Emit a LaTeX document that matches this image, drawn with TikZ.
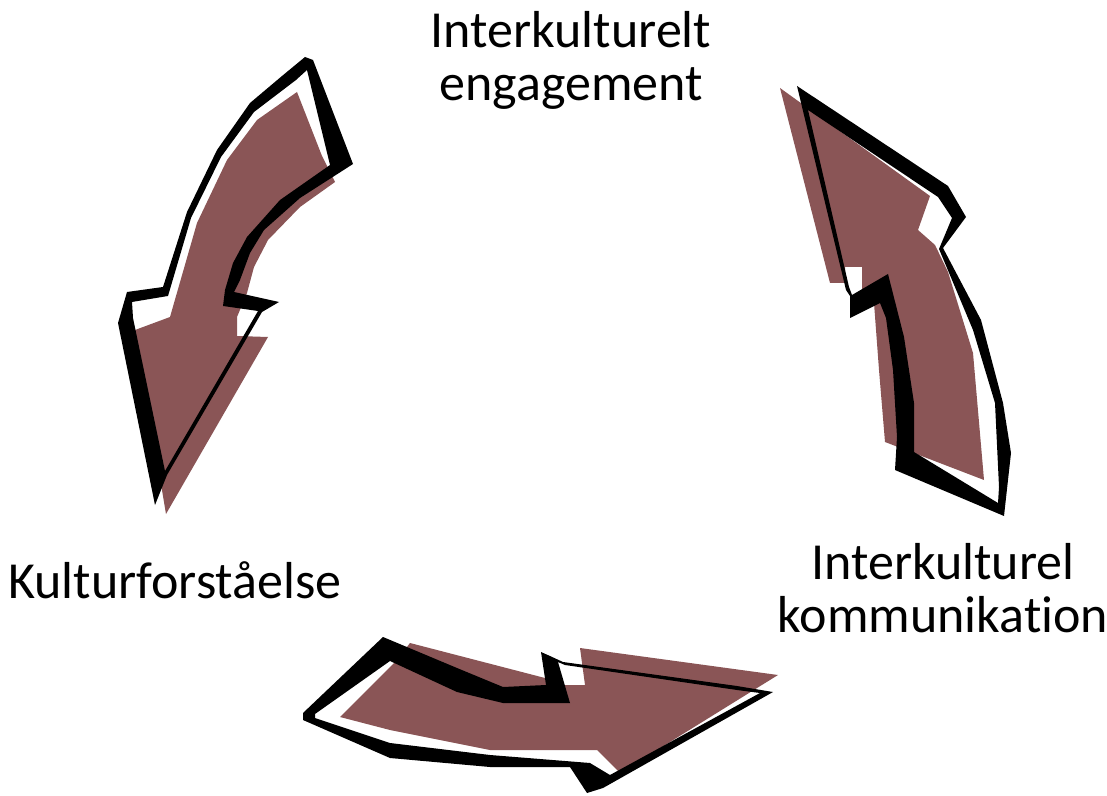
\documentclass[tikz,border=0pt]{standalone}
\usepackage{fontspec}
\setmainfont{Carlito}[Ligatures=NoCommon]
\definecolor{arrowred}{HTML}{8A5556}
\tikzset{
  shade/.style={fill=arrowred},
  rim/.style={fill=black, even odd rule},
  label/.style={align=center, inner sep=0pt, font=\fontsize{26}{26.5}\selectfont}
}
\begin{document}
\begin{tikzpicture}[x=0.5pt, y=-0.5pt]
  \useasboundingbox (0,0) rectangle (1107,796);

  % venstre pil
  \fill[shade] (297,92) -- (322,156) -- (335,182) -- (300,207) -- (268,240) -- (254,267) -- (247,293) -- (237,317) -- (237,336) -- (268,337) -- (166,514) -- (135,330) -- (170,317) -- (197,223) -- (227,160) -- (257,120) -- cycle;
  \fill[rim] (305,57) -- (313,60) -- (353,164) -- (300,198) -- (264,230) -- (250,253) -- (240,280) -- (234,292) -- (279,302) -- (262,312) -- (167,475) -- (155,505) -- (118,323) -- (127,292) -- (163,287) -- (187,212) -- (217,150) -- (250,103) -- (282,76) -- cycle
    (307,70) -- (330,165) -- (280,200) -- (247,237) -- (233,263) -- (225,290) -- (223,306) -- (258,311) -- (165,471) -- (133,318) -- (132,302) -- (168,296) -- (191,218) -- (221,157) -- (254,112) -- (296,80) -- cycle;

  % hoejre pil
  \fill[shade] (780,88) -- (930,196) -- (918,230) -- (935,245) -- (948,272) -- (973,353) -- (984,480) -- (885,442) -- (879,370) -- (874,303) -- (862,290) -- (862,267) -- (845,267) -- (845,283) -- (830,283) -- cycle;
  \fill[rim] (797,86) -- (948,186) -- (966,217) -- (943,248) -- (981,320) -- (1003,403) -- (1011,453) -- (1004,516) -- (895,470) -- (897,437) -- (893,370) -- (886,318) -- (880,303) -- (850,318) -- (850,296) -- (846,290) -- cycle
    (808,110) -- (938,197) -- (952,218) -- (939,249) -- (973,330) -- (995,403) -- (999,487) -- (998,503) -- (914,452) -- (914,403) -- (904,337) -- (888,274) -- (852,295) -- (849,287) -- cycle;

  % nederste pil
  \fill[shade] (410,643) -- (545,678) -- (560,685) -- (585,685) -- (580,648) -- (778,675) -- (620,773) -- (597,750) -- (490,750) -- (390,730) -- (340,717) -- (397,660) -- cycle;
  \fill[rim] (303,713) -- (383,637) -- (457,668) -- (503,687) -- (546,685) -- (541,652) -- (550,656) -- (563,662) -- (737,686) -- (773,692) -- (603,788) -- (587,793) -- (570,767) -- (490,767) -- (390,758) -- (303,720) -- cycle
    (315,714) -- (390,661) -- (457,692) -- (503,703) -- (570,703) -- (558,662) -- (565,665) -- (737,690) -- (760,693) -- (610,775) -- (590,763) -- (490,755) -- (390,743) -- (315,718) -- cycle;

  \node[label] (eng) at (571,60) {Interkulturelt\\engagement};
  \node[label] (kom) at (943,588) {Interkulturel\\kommunikation};
  \node[label] (kul) at (175,580) {Kulturforståelse};
\end{tikzpicture}
\end{document}
